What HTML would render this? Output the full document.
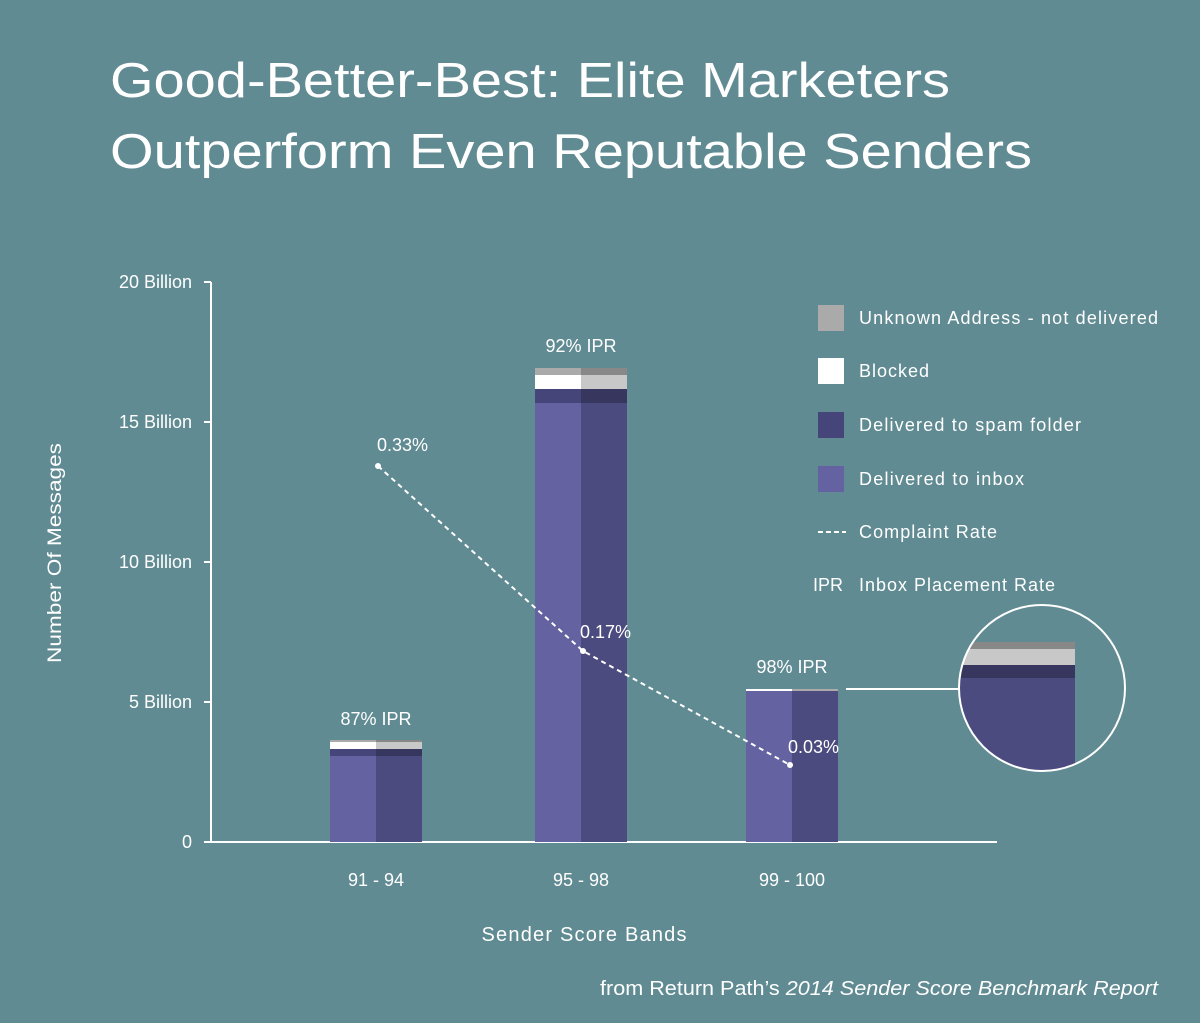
<!DOCTYPE html>
<html><head><meta charset="utf-8"><style>
html,body{margin:0;padding:0;background:#608b92;}
svg{display:block;font-family:"Liberation Sans",sans-serif;}
</style></head><body>
<svg width="1200" height="1023" viewBox="0 0 1200 1023" xmlns="http://www.w3.org/2000/svg">
<rect width="1200" height="1023" fill="#608b92"/>
<g fill="#ffffff">
<text x="110" y="97" font-size="49" textLength="840" lengthAdjust="spacingAndGlyphs">Good-Better-Best: Elite Marketers</text>
<text x="110" y="168" font-size="49" textLength="922" lengthAdjust="spacingAndGlyphs">Outperform Even Reputable Senders</text>
</g>
<g stroke="#fff" stroke-width="2" fill="none">
<path d="M211 282 V843 M210 842 H997"/>
<path d="M204 282 H211 M204 422 H211 M204 562 H211 M204 702 H211 M204 842 H211"/>
</g>
<g fill="#fff" font-size="18" text-anchor="end">
<text x="192" y="288">20 Billion</text>
<text x="192" y="428">15 Billion</text>
<text x="192" y="568">10 Billion</text>
<text x="192" y="708">5 Billion</text>
<text x="192" y="848">0</text>
</g>
<text transform="translate(61,553) rotate(-90)" fill="#fff" font-size="19" text-anchor="middle" textLength="220" lengthAdjust="spacingAndGlyphs">Number Of Messages</text>
<rect x="330" y="740" width="46" height="2" fill="#aaa"/><rect x="376" y="740" width="46" height="2" fill="#888"/>
<rect x="330" y="742" width="46" height="7" fill="#fff"/><rect x="376" y="742" width="46" height="7" fill="#c8c8c8"/>
<rect x="330" y="749" width="46" height="7" fill="#46457a"/><rect x="376" y="749" width="46" height="7" fill="#36365e"/>
<rect x="330" y="756" width="46" height="86" fill="#6462a0"/><rect x="376" y="756" width="46" height="86" fill="#4c4b7f"/>
<rect x="535" y="368" width="46" height="7" fill="#aaa"/><rect x="581" y="368" width="46" height="7" fill="#888"/>
<rect x="535" y="375" width="46" height="14" fill="#fff"/><rect x="581" y="375" width="46" height="14" fill="#c8c8c8"/>
<rect x="535" y="389" width="46" height="14" fill="#46457a"/><rect x="581" y="389" width="46" height="14" fill="#36365e"/>
<rect x="535" y="403" width="46" height="439" fill="#6462a0"/><rect x="581" y="403" width="46" height="439" fill="#4c4b7f"/>
<rect x="746" y="689" width="46" height="2" fill="#fff"/><rect x="792" y="689" width="46" height="2" fill="#aaa"/>
<rect x="746" y="691" width="46" height="151" fill="#6462a0"/><rect x="792" y="691" width="46" height="151" fill="#4c4b7f"/>
<line x1="846" y1="689" x2="960" y2="689" stroke="#fff" stroke-width="2"/>
<defs><clipPath id="c"><circle cx="1042" cy="688" r="83"/></clipPath></defs>
<g clip-path="url(#c)">
<rect x="960" y="642" width="115" height="7" fill="#888"/>
<rect x="960" y="649" width="115" height="16" fill="#c8c8c8"/>
<rect x="960" y="665" width="115" height="13" fill="#36365e"/>
<rect x="960" y="678" width="115" height="100" fill="#4c4b7f"/>
</g>
<circle cx="1042" cy="688" r="83" fill="none" stroke="#fff" stroke-width="2"/>
<g fill="#fff" font-size="18" text-anchor="middle">
<text x="376" y="725">87% IPR</text>
<text x="581" y="352">92% IPR</text>
<text x="792" y="673">98% IPR</text>
</g>
<polyline points="378,466 583,651 790,765" fill="none" stroke="#fff" stroke-width="2" stroke-dasharray="5,4"/>
<g fill="#fff"><circle cx="378" cy="466" r="3"/><circle cx="583" cy="651" r="3"/><circle cx="790" cy="765" r="3"/></g>
<g fill="#fff" font-size="18">
<text x="377" y="451">0.33%</text>
<text x="580" y="638">0.17%</text>
<text x="788" y="753">0.03%</text>
</g>
<rect x="818" y="305" width="26" height="26" fill="#aaa"/>
<rect x="818" y="358" width="26" height="26" fill="#fff"/>
<rect x="818" y="412" width="26" height="26" fill="#46457a"/>
<rect x="818" y="466" width="26" height="26" fill="#6462a0"/>
<line x1="818" y1="532" x2="846" y2="532" stroke="#fff" stroke-width="2" stroke-dasharray="5,3"/>
<g fill="#fff" font-size="18" lengthAdjust="spacingAndGlyphs">
<text x="859" y="324" textLength="299">Unknown Address - not delivered</text>
<text x="859" y="377" textLength="70">Blocked</text>
<text x="859" y="431" textLength="222">Delivered to spam folder</text>
<text x="859" y="485" textLength="165">Delivered to inbox</text>
<text x="859" y="538" textLength="138">Complaint Rate</text>
<text x="813" y="591">IPR</text>
<text x="859" y="591" textLength="196">Inbox Placement Rate</text>
</g>
<g fill="#fff" font-size="18" text-anchor="middle">
<text x="376" y="886">91 - 94</text>
<text x="581" y="886">95 - 98</text>
<text x="792" y="886">99 - 100</text>
<text x="584" y="941" font-size="20" textLength="205">Sender Score Bands</text>
</g>
<text x="600" y="995" fill="#fff" font-size="20" textLength="558" lengthAdjust="spacingAndGlyphs">from Return Path’s <tspan font-style="italic">2014 Sender Score Benchmark Report</tspan></text>
</svg>
</body></html>
